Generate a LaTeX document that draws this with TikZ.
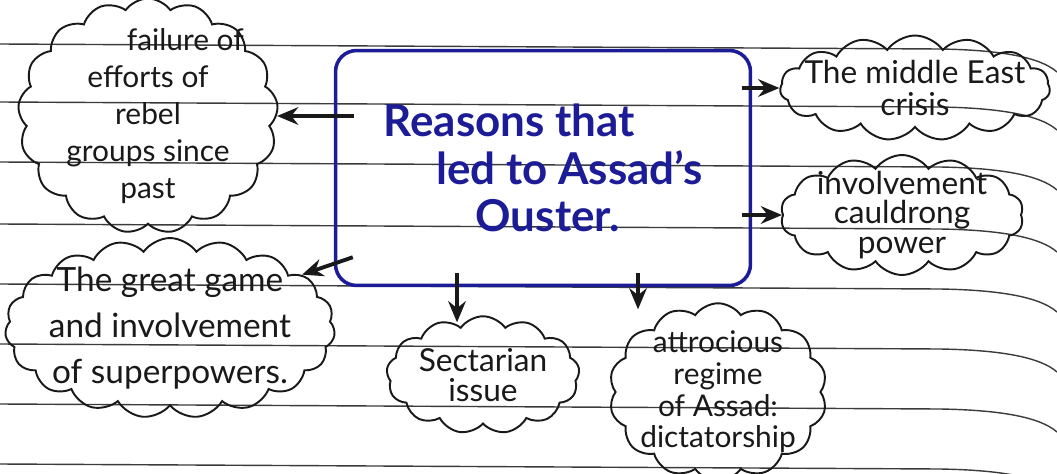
\documentclass[tikz,border=0pt]{standalone}
\usepackage{fontspec}
\setmainfont{Lato}
\usepackage{tikz}
\usetikzlibrary{calc}
\usetikzlibrary{arrows.meta}
\usetikzlibrary{shapes.symbols}

\definecolor{inkblue}{RGB}{28,28,150}
\definecolor{pencil}{RGB}{25,25,25}

\tikzset{
  ruling/.style={line width=0.8pt, pencil!85},
  bubble/.style={cloud, cloud puffs=17, cloud puff arc=110, cloud ignores aspect,
    draw=pencil, line width=1.1pt, inner sep=0pt},
  scrawl/.style={align=center, text=pencil, inner sep=0pt},
  arr/.style={-{Stealth[length=12pt,width=10pt]}, line width=2.2pt, pencil},
}

\begin{document}
\begin{tikzpicture}[x=0.02cm,y=-0.02cm]
\useasboundingbox (0,0) rectangle (1057,473);
% ruled paper
\foreach \y in {47,105,165,227,287,347,407,467}
  \draw[ruling] (0,\y-3) -- (940,\y+2) .. controls (1000,\y+3) and (1040,\y+10) .. (1057,\y+25);

\node[draw=inkblue, line width=2pt, rounded corners=12pt, minimum width=8.3cm, minimum height=4.7cm,
  align=left, text=inkblue, font=\bfseries\fontsize{25}{27}\selectfont] (box) at (543,168)
  {Reasons that\\ \hspace*{1.2em}led to Assad's\\ \hspace*{2.1em}Ouster.};

\node[bubble, minimum width=5.2cm, minimum height=4.7cm] (rebel) at (148,116) {};
\node[scrawl, font=\fontsize{17}{21}\selectfont] (rebeltxt) at (rebel)
  {\hspace*{2.5em}failure of\\ efforts of\\ rebel\\ groups since\\ past};

\node[bubble, cloud puffs=19, minimum width=6.6cm, minimum height=3.6cm] (game) at (170,328) {};
\node[scrawl, font=\fontsize{19}{26}\selectfont] (gametxt) at (game)
  {The great game\\ and involvement\\ of superpowers.};

\node[bubble, cloud puffs=13, minimum width=3.86cm, minimum height=2.35cm] (sect) at (483,375) {};
\node[scrawl, font=\fontsize{18}{17}\selectfont] (secttxt) at (sect) {Sectarian\\ issue};

\node[bubble, cloud puffs=14, minimum width=4.36cm, minimum height=3.55cm] (atro) at (718,392) {};
\node[scrawl, font=\fontsize{17}{18}\selectfont] (atrotxt) at (atro)
  {attrocious\\ regime\\ of Assad:\\ dictatorship};

\node[bubble, cloud puffs=15, minimum width=5.4cm, minimum height=2.1cm] (mideast) at (915,88) {};
\node[scrawl, font=\fontsize{18}{18}\selectfont] (mideasttxt) at (mideast) {The middle East\\ crisis};

\node[bubble, cloud puffs=14, minimum width=4.86cm, minimum height=2.4cm] (involve) at (902,215) {};
\node[scrawl, font=\fontsize{18}{17}\selectfont] (involvetxt) at (involve) {involvement\\ cauldrong\\ power};

% arrows out of the box
\draw[arr] ([xshift=0.4cm]box.west |- rebel.east) -- (rebel.east);
\draw[arr] ([shift={(19,-30)}]box.south west) -- (game.22);
\draw[arr, shorten >=-4pt] ([xshift=-1.72cm,yshift=0.28cm]box.south) -- ([xshift=-0.52cm]sect.north);
\draw[arr, shorten >=-4pt] ([xshift=1.9cm,yshift=0.28cm]box.south) -- ([xshift=-1.6cm]atro.north);
\draw[arr] ([xshift=-0.21cm]box.east |- mideast.west) -- (mideast.west);
\draw[arr] ([xshift=-0.21cm]box.east |- involve.west) -- (involve.west);
\end{tikzpicture}
\end{document}
